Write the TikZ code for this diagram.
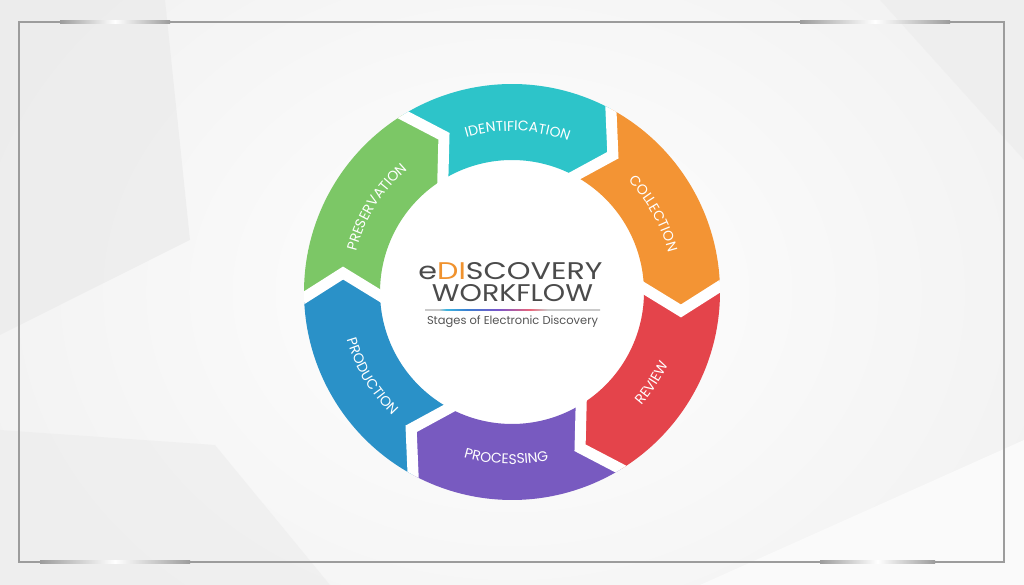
\documentclass[tikz,border=0pt]{standalone}
\usepackage{fontspec}
\setmainfont{Poppins}
\usetikzlibrary{decorations.text,calc}
\definecolor{bgbase}{HTML}{F2F2F2}
\definecolor{facetA}{HTML}{E9E9E9}
\definecolor{facetB}{HTML}{ECECEC}
\definecolor{facetC}{HTML}{FAFAFA}
\definecolor{framec}{HTML}{9C9C9C}
\definecolor{cyanseg}{HTML}{2DC4C9}
\definecolor{orangeseg}{HTML}{F39434}
\definecolor{redseg}{HTML}{E4444B}
\definecolor{purpleseg}{HTML}{785AC0}
\definecolor{blueseg}{HTML}{2A91C8}
\definecolor{greenseg}{HTML}{7CC766}
\definecolor{txtgray}{HTML}{4B4B4B}
\definecolor{subgray}{HTML}{555555}
\definecolor{diorange}{HTML}{F0922E}
\definecolor{rulegray}{HTML}{CACACA}
\definecolor{rulecyan}{HTML}{3FB6E0}
\definecolor{ruleblue}{HTML}{3A7FD0}
\definecolor{rulepurple}{HTML}{7A55C8}
\definecolor{rulered}{HTML}{E8657A}
\pgfdeclarehorizontalshading{ruleshade}{100bp}{color(0bp)=(rulegray); color(29bp)=(rulegray); color(31bp)=(rulecyan); color(37bp)=(ruleblue); color(46bp)=(rulepurple); color(55bp)=(rulered); color(60bp)=(rulegray); color(100bp)=(rulegray)}
\newcommand{\labfont}{\fontsize{14}{16}\selectfont}
\tikzset{
  gapline/.style={draw=white, line width=11pt, line join=miter, line cap=butt},
  framestreak/.style={left color=framec, right color=framec, middle color=white},
  cwlabel/.style={decorate, decoration={text along path, text align=center, text color=white, text={|\labfont|#1}}},
  ccwlabel/.style={decorate, decoration={text along path, text align=center, text color=white, text={|\labfont|#1}}},
  titletext/.style={anchor=base, inner sep=0pt, text=txtgray},
}
\begin{document}
\begin{tikzpicture}[x=1pt,y=1pt]
\useasboundingbox (0,0) rectangle (1024,585);
% background
\fill[bgbase] (0,0) rectangle (1024,585);
\shade[inner color=white, outer color=bgbase] (512,293) ellipse (560 and 440);
\fill[facetA, opacity=0.6] (0,585) -- (165,585) -- (190,345) -- (0,250) -- cycle;
\fill[facetB, opacity=0.6] (0,0) -- (0,155) -- (215,140) -- (330,0) -- cycle;
\fill[facetB, opacity=0.6] (880,585) -- (1024,585) -- (1024,425) -- cycle;
\fill[facetC] (700,0) -- (1024,145) -- (1024,0) -- cycle;
% frame
\draw[framec, line width=2.5pt] (19,23) rectangle (1004,563);
\shade[framestreak] (60,561.8) rectangle (170,564.2);
\shade[framestreak] (800,561.8) rectangle (950,564.2);
\shade[framestreak] (40,21.8) rectangle (190,24.2);
\shade[framestreak] (820,21.8) rectangle (935,24.2);
% ring
\begin{scope}[shift={(512,293)}]
  \fill[white] (0,0) circle (132pt);
  \foreach \a/\col in {121.6/cyanseg, 61.6/orangeseg, 1.6/redseg, -58.4/purpleseg, -118.4/blueseg, 181.6/greenseg}{
    \pgfmathsetmacro\bb{\a-60}
    \pgfmathsetmacro\bt{\a-68}
    \pgfmathsetmacro\at{\a-8}
    \fill[\col] (\a:208pt) arc[start angle=\a, end angle=\bb, radius=208pt]
      -- (\bt:170pt) -- (\bb:132pt)
      arc[start angle=\bb, end angle=\a, radius=132pt]
      -- (\at:170pt) -- cycle;
  }
  \begin{scope}
    \clip (0,0) circle (208pt);
    \foreach \b in {121.6, 61.6, 1.6, -58.4, -118.4, -178.4}{
      \pgfmathsetmacro\bt{\b-8}
      \draw[gapline] ($(\bt:170pt)!1.5!(\b:208pt)$) -- (\bt:170pt) -- ($(\bt:170pt)!1.5!(\b:132pt)$);
    }
  \end{scope}
  % labels
  \path[cwlabel=IDENTIFICATION] (128:161pt) arc[start angle=128, end angle=48, radius=161pt];
  \path[cwlabel=COLLECTION] (69:161pt) arc[start angle=69, end angle=-11, radius=161pt];
  \path[cwlabel=PRESERVATION] (188:161pt) arc[start angle=188, end angle=108, radius=161pt];
  \path[ccwlabel=REVIEW] (-73:172pt) arc[start angle=-73, end angle=7, radius=172pt];
  \path[ccwlabel=PROCESSING] (-132:172pt) arc[start angle=-132, end angle=-52, radius=172pt];
  \path[ccwlabel=PRODUCTION] (-189:172pt) arc[start angle=-189, end angle=-109, radius=172pt];
\end{scope}
% centre title
\node[titletext] (title1) at (510.5,305) {\resizebox{184pt}{17pt}{e\textcolor{diorange}{DI}SCOVERY}};
\node[titletext] (title2) at (512.5,283) {\resizebox{161pt}{17pt}{WORKFLOW}};
\shade[shading=ruleshade] (425,274.3) rectangle (600,275.8);
\node[anchor=base, inner sep=0pt, text=subgray] (subtitle) at (512.5,260.5) {\resizebox{171pt}{!}{Stages of Electronic Discovery}};
\end{tikzpicture}
\end{document}
